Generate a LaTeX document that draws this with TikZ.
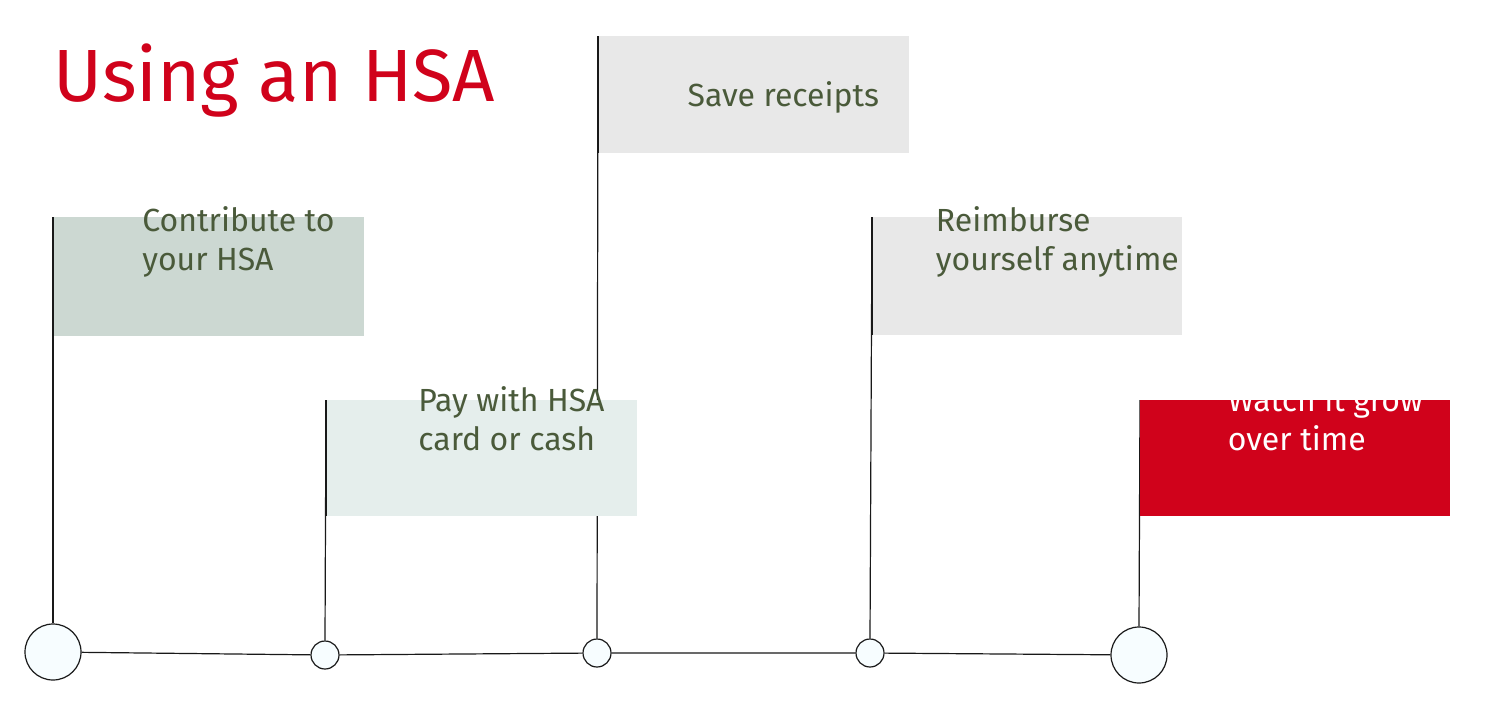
\documentclass[tikz,border=0pt]{standalone}
\usepackage{fontspec}
\setmainfont{Fira Sans}
\begin{document}
\begin{tikzpicture}[x=0.5pt,y=-0.5pt,
 box/.style={anchor=north west,inner sep=0pt,minimum width=155pt,align=left,text=olive!70!black,font=\fontsize{16}{19.5}\selectfont},
 ln/.style={draw=black!90,line width=0.6pt},
 dot/.style={circle,draw=black!90,fill=cyan!3,line width=0.6pt,inner sep=0pt}]
\definecolor{hsared}{HTML}{D0021B}
\definecolor{txt}{HTML}{4A5A3A}
\useasboundingbox (0,0) rectangle (1493,718);
\fill[white] (0,0) rectangle (1493,718);
\node[anchor=base west,inner sep=0pt,text=hsared,font=\fontsize{37}{40}\selectfont] (title) at (53,101) {Using an HSA};
% vertical lines
\coordinate (t1) at (53,217); \coordinate (t2) at (326,400); \coordinate (t3) at (598,36);
\coordinate (t4) at (872,217); \coordinate (t5) at (1140,400);
\node[dot,minimum size=28pt] (c1) at (53,652) {};
\node[dot,minimum size=14pt] (c2) at (325,655) {};
\node[dot,minimum size=14pt] (c3) at (597,653) {};
\node[dot,minimum size=14pt] (c4) at (870,653) {};
\node[dot,minimum size=28pt] (c5) at (1139,655) {};
\draw[ln] (t1) -- (c1.north);
\draw[ln] (t2) -- (c2.north);
\draw[ln] (t3) -- (c3.north);
\draw[ln] (t4) -- (c4.north);
\draw[ln] (t5) -- (c5.north);
\draw[ln] (c1) -- (c2) -- (c3) -- (c4) -- (c5);
\foreach \c in {c1,c2,c3,c4,c5}{\node[dot,minimum size=0pt] at (\c) {};}
\fill[fill={rgb,255:red,204;green,216;blue,210}] (53,217) rectangle (364,336);
\fill[fill={rgb,255:red,229;green,238;blue,236}] (326,400) rectangle (637,516);
\fill[fill={rgb,255:red,232;green,232;blue,232}] (598,36) rectangle (909,153);
\fill[fill={rgb,255:red,232;green,232;blue,232}] (872,217) rectangle (1182,335);
\fill[hsared] (1140,400) rectangle (1450,516);
\draw[ln] (53,217) -- (53,336); \draw[ln] (326,400) -- (326,516);
\draw[ln] (598,36) -- (598,153); \draw[ln] (872,217) -- (872,335);
\node[box,anchor=base west,text=txt] (b1) at (83,270) {Contribute to\\your HSA};
\node[box,anchor=base west,text=txt] (b2) at (356,450) {Pay with HSA\\card or cash};
\node[box,anchor=base west,text=txt] (b3) at (628,106) {Save receipts};
\node[box,anchor=base west,text=txt] (b4) at (902,270) {Reimburse\\yourself anytime};
\node[box,anchor=base west,text=white] (b5) at (1170,450) {Watch it grow\\over time};
\end{tikzpicture}
\end{document}
